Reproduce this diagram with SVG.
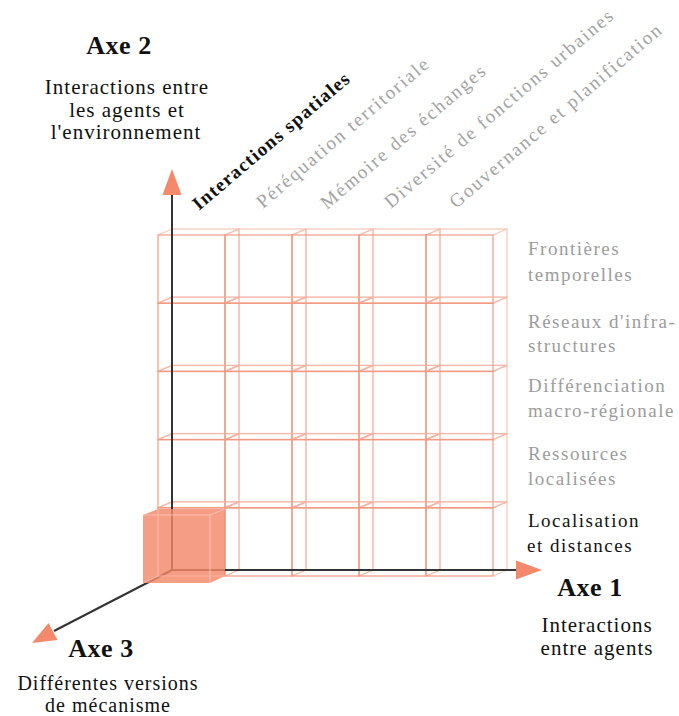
<svg xmlns="http://www.w3.org/2000/svg" xmlns:xlink="http://www.w3.org/1999/xlink" width="679" height="716" viewBox="0 0 679 716" font-family="'Liberation Serif', 'Times New Roman', 'DejaVu Serif', serif">
<style>
text { font-family: 'Liberation Serif', 'Times New Roman', 'DejaVu Serif', serif; }
.title { font-size: 26px; font-weight: bold; fill: #111; text-anchor: middle; letter-spacing: 0.5px; }
.desc { font-size: 21px; fill: #111; text-anchor: middle; letter-spacing: 1px; }
.desc.small { font-size: 20px; }
.row { font-size: 19px; fill: #9c9c9c; letter-spacing: 1.5px; }
.row.on { fill: #111; }
.col { font-size: 19px; fill: #a3a3a3; letter-spacing: 1.9px; }
.col.on { fill: #111; font-weight: bold; letter-spacing: 1.3px; }
.back { fill: none; stroke: #f5b3a2; stroke-width: 1.3; opacity: 0.7; }
.front { fill: none; stroke: #f4947b; stroke-width: 1.4; opacity: 0.8; }
.axis { stroke: #333; stroke-width: 2; fill: none; }
.head { fill: #f4896c; }
</style>
<defs>
<g id="cube">
<rect class="back" x="14" y="-6" width="67" height="68.2"/>
<path class="back" d="M0 0 L14 -6 M67 0 L81 -6 M0 68.2 L14 62.2 M67 68.2 L81 62.2"/>
<rect class="front" x="0" y="0" width="67" height="68.2"/>
</g>
</defs>
<g id="grid">
<use xlink:href="#cube" x="158" y="235"/><use xlink:href="#cube" x="225" y="235"/><use xlink:href="#cube" x="292" y="235"/><use xlink:href="#cube" x="359" y="235"/><use xlink:href="#cube" x="426" y="235"/>
<use xlink:href="#cube" x="158" y="303.2"/><use xlink:href="#cube" x="225" y="303.2"/><use xlink:href="#cube" x="292" y="303.2"/><use xlink:href="#cube" x="359" y="303.2"/><use xlink:href="#cube" x="426" y="303.2"/>
<use xlink:href="#cube" x="158" y="371.4"/><use xlink:href="#cube" x="225" y="371.4"/><use xlink:href="#cube" x="292" y="371.4"/><use xlink:href="#cube" x="359" y="371.4"/><use xlink:href="#cube" x="426" y="371.4"/>
<use xlink:href="#cube" x="158" y="439.6"/><use xlink:href="#cube" x="225" y="439.6"/><use xlink:href="#cube" x="292" y="439.6"/><use xlink:href="#cube" x="359" y="439.6"/><use xlink:href="#cube" x="426" y="439.6"/>
<use xlink:href="#cube" x="158" y="507.8"/><use xlink:href="#cube" x="225" y="507.8"/><use xlink:href="#cube" x="292" y="507.8"/><use xlink:href="#cube" x="359" y="507.8"/><use xlink:href="#cube" x="426" y="507.8"/>
</g>
<g id="connectors">
<line class="axis" x1="172" y1="570" x2="172" y2="194"/>
<line class="axis" x1="172" y1="570" x2="518" y2="570"/>
<line class="axis" x1="172" y1="570" x2="54" y2="631"/>
</g>
<g id="selected-cube">
<path d="M143 515 L158 509 L225 509 L225 576 L210 583 L143 583 Z" fill="#f4876a" opacity="0.82"/>
<path d="M143 515 L210 515 L225 509 M210 515 L210 583 M158 509 L158 576 L225 576 M158 576 L143 583" fill="none" stroke="#fbc7b8" stroke-width="1.2" opacity="0.8"/>
</g>
<g id="arrowheads">
<polygon class="head" points="172,169 181.5,195 162.5,195"/>
<polygon class="head" points="542,570 516,560.5 516,579.5"/>
<polygon class="head" points="32,643 48.5,623 57.5,640"/>
</g>
<g id="axe2">
<text class="title" x="119" y="54">Axe 2</text>
<text class="desc" x="127" y="94">Interactions entre</text>
<text class="desc" x="127" y="117">les agents et</text>
<text class="desc" x="126" y="139">l'environnement</text>
</g>
<g id="axe1">
<text class="title" x="590" y="596">Axe 1</text>
<text class="desc" x="597" y="632">Interactions</text>
<text class="desc" x="597" y="655">entre agents</text>
</g>
<g id="axe3">
<text class="title" x="101" y="657">Axe 3</text>
<text class="desc small" x="108" y="690">Différentes versions</text>
<text class="desc small" x="108" y="712">de mécanisme</text>
</g>
<g id="row-labels">
<text class="row" x="528" y="255">Frontières</text>
<text class="row" x="528" y="281">temporelles</text>
<text class="row" x="528" y="328">Réseaux d'infra-</text>
<text class="row" x="528" y="352">structures</text>
<text class="row" x="528" y="392">Différenciation</text>
<text class="row" x="528" y="417">macro-régionale</text>
<text class="row" x="528" y="460">Ressources</text>
<text class="row" x="528" y="485">localisées</text>
<text class="row on" x="528" y="527">Localisation</text>
<text class="row on" x="527" y="552">et distances</text>
</g>
<g id="column-labels">
<text class="col on" transform="translate(199,211) rotate(-40.5)">Interactions spatiales</text>
<text class="col" transform="translate(263,209) rotate(-40.5)">Péréquation territoriale</text>
<text class="col" transform="translate(327,210) rotate(-40.5)">Mémoire des échanges</text>
<text class="col" transform="translate(391,209) rotate(-40.5)">Diversité de fonctions urbaines</text>
<text class="col" transform="translate(456,209) rotate(-40.5)">Gouvernance et planification</text>
</g>
</svg>
